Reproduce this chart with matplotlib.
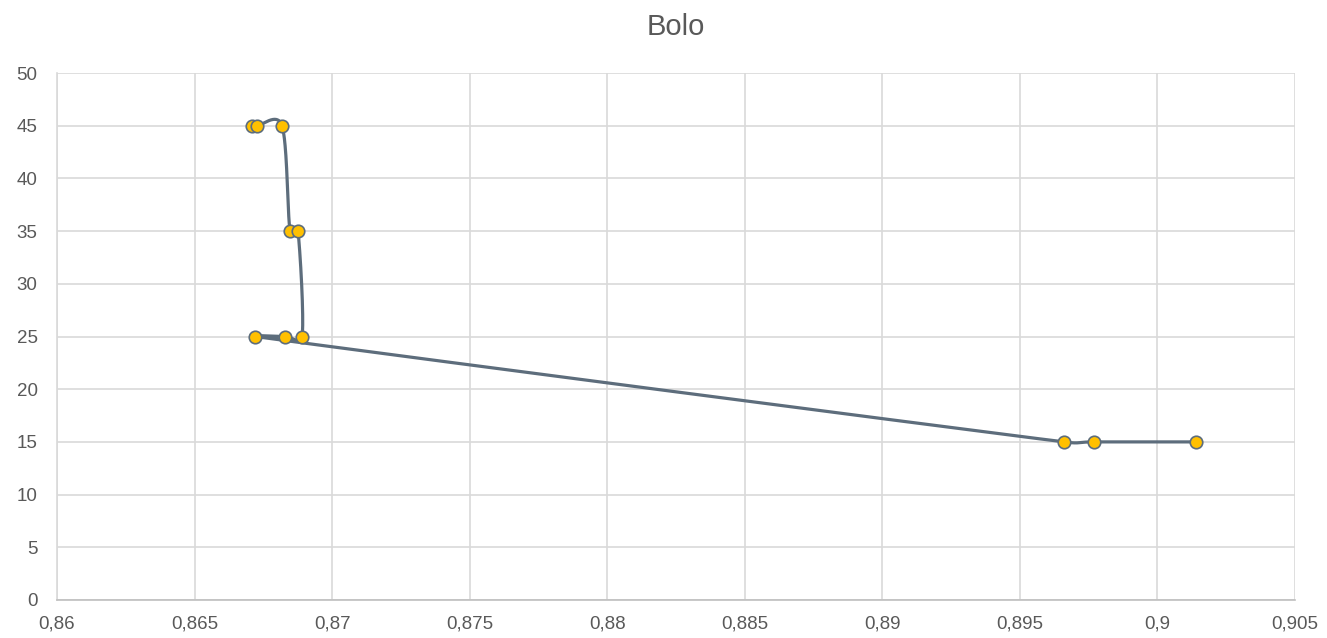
import numpy as np
import matplotlib
matplotlib.use("Agg")
import matplotlib.pyplot as plt
from matplotlib.ticker import FuncFormatter, MultipleLocator

plt.rcParams['font.family'] = ['Liberation Sans', 'DejaVu Sans']

# measurement series, in the order the points were taken
x_vals = [0.86709, 0.86727, 0.86818, 0.86847, 0.86876, 0.86891,
          0.86829, 0.86720, 0.89660, 0.89769, 0.90140]
y_vals = [45, 45, 45, 35, 35, 25, 25, 25, 15, 15, 15]

line_col = '#5d6d7c'
text_col = '#595959'
grid_col = '#d9d9d9'


def handle(v, limit):
    n = np.hypot(*v)
    return v if n <= limit or n == 0 else v * (limit / n)


def smooth_path(px, py, n=60):
    # Catmull-Rom bezier through the points (screen space), handles capped
    # so short segments next to long ones don't overshoot
    pts = np.column_stack([px, py])
    out = []
    for i in range(len(pts) - 1):
        p0 = pts[i - 1] if i > 0 else pts[i]
        p1 = pts[i]
        p2 = pts[i + 1]
        p3 = pts[i + 2] if i + 2 < len(pts) else pts[i + 1]
        d12 = np.hypot(*(p2 - p1))
        c1 = p1 + handle((p2 - p0) / 6.0, 0.6 * d12)
        c2 = p2 - handle((p3 - p1) / 6.0, 0.6 * d12)
        t = np.linspace(0, 1, n)[:, None]
        seg = ((1 - t) ** 3) * p1 + 3 * ((1 - t) ** 2) * t * c1 + 3 * (1 - t) * t ** 2 * c2 + t ** 3 * p2
        out.append(seg if i == 0 else seg[1:])
    return np.vstack(out)


fig = plt.figure(figsize=(13.27, 6.38), dpi=100)
ax = fig.add_axes([57 / 1327, 1 - 600 / 638, (1295 - 57) / 1327, (600 - 73) / 638])
ax.set_xlim(0.86, 0.905)
ax.set_ylim(0, 50)

# spline computed in display coordinates, then mapped back to data
disp = ax.transData.transform(np.column_stack([x_vals, y_vals]))
curve = smooth_path(disp[:, 0], disp[:, 1])
curve = ax.transData.inverted().transform(curve)
ax.plot(curve[:, 0], curve[:, 1], color=line_col, lw=2.3, zorder=3, solid_capstyle='round')
ax.plot(x_vals, y_vals, ls='none', marker='o', ms=9, mfc='#ffc000', mec=line_col, mew=1.2, zorder=4)

ax.xaxis.set_major_locator(MultipleLocator(0.005))
ax.yaxis.set_major_locator(MultipleLocator(5))
fmt = FuncFormatter(lambda v, p: ('%g' % round(v, 4)).replace('.', ','))
ax.xaxis.set_major_formatter(fmt)
ax.yaxis.set_major_formatter(fmt)
ax.grid(True, color=grid_col, lw=1.2)
ax.set_axisbelow(True)
for s in ['top', 'right']:
    ax.spines[s].set_visible(False)
ax.spines['left'].set_color(grid_col)
ax.spines['bottom'].set_color('#bfbfbf')
ax.spines['left'].set_linewidth(1.2)
ax.spines['bottom'].set_linewidth(1.2)
ax.tick_params(length=0, labelsize=13.5, colors=text_col)
ax.tick_params(axis='x', pad=11)
ax.tick_params(axis='y', pad=14)

fig.text(0.5 + (57 + 1295 - 1327) / 2 / 1327, 1 - 27 / 638, 'Bolo', ha='center', va='center',
         fontsize=21, color=text_col)

fig.savefig('out.png', dpi=100, facecolor='white')
